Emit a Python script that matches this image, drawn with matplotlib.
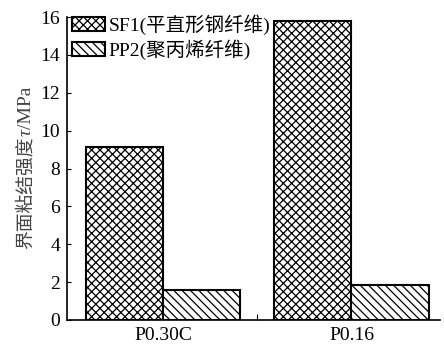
import matplotlib
matplotlib.use('Agg')
import matplotlib.pyplot as plt
import numpy as np

categories = ['P0.30C', 'P0.16']
sf1 = [9.15, 15.8]
pp2 = [1.6, 1.85]
labels = ['SF1(平直形钢纤维)', 'PP2(聚丙烯纤维)']

plt.rcParams['font.family'] = ['Liberation Serif', 'Noto Sans CJK SC']
plt.rcParams['hatch.linewidth'] = 0.9
plt.rcParams['font.size'] = 14

fig = plt.figure(figsize=(4.44, 3.48), dpi=100)
ax = fig.add_axes([0.151, 0.0805, 0.84, 0.8705])

x = np.arange(len(categories))
w = 0.41
ax.bar(x - w/2, sf1, w, color='white', edgecolor='black', hatch='xxxx', linewidth=1.5, label=labels[0])
ax.bar(x + w/2, pp2, w, color='white', edgecolor='black', hatch='\\\\\\\\', linewidth=1.5, label=labels[1])

ax.set_xlim(-0.51, 1.47)
ax.set_ylim(0, 16)
ax.set_yticks(range(0, 17, 2))
ax.set_xticks([0.5])
ax.set_xticklabels([''])
ax.set_xticks(x, minor=True)
ax.set_xticklabels(categories, minor=True)
ax.tick_params(axis='x', which='minor', length=0, pad=5)
ax.tick_params(axis='x', which='major', direction='in', length=4)
ax.tick_params(axis='y', direction='in', length=3, pad=5)
ax.spines['top'].set_visible(False)
ax.spines['right'].set_visible(False)
ax.spines['left'].set_linewidth(1.2)
ax.spines['bottom'].set_linewidth(1.2)

# y label in three pieces so tau can be italic while CJK still renders
lab_col = '#444444'
t1 = ax.text(-0.11, 0.235, '界面粘结强度', rotation=90, transform=ax.transAxes,
             ha='center', va='bottom', color=lab_col, fontsize=13.5)
t2 = ax.annotate('τ', xy=(0.5, 1.0), xycoords=t1, rotation=90, ha='center', va='bottom',
                 color=lab_col, fontsize=14, fontstyle='italic')
t3 = ax.annotate('/MPa', xy=(0.5, 1.0), xycoords=t2, rotation=90, ha='center', va='bottom',
                 color=lab_col, fontsize=14)

ax.legend(loc='upper left', frameon=False, bbox_to_anchor=(-0.013, 1.04),
          handlelength=1.7, handleheight=0.75, handletextpad=0.2,
          labelspacing=0.2, borderaxespad=0.2, borderpad=0.3)

fig.savefig('out.png', dpi=100)
